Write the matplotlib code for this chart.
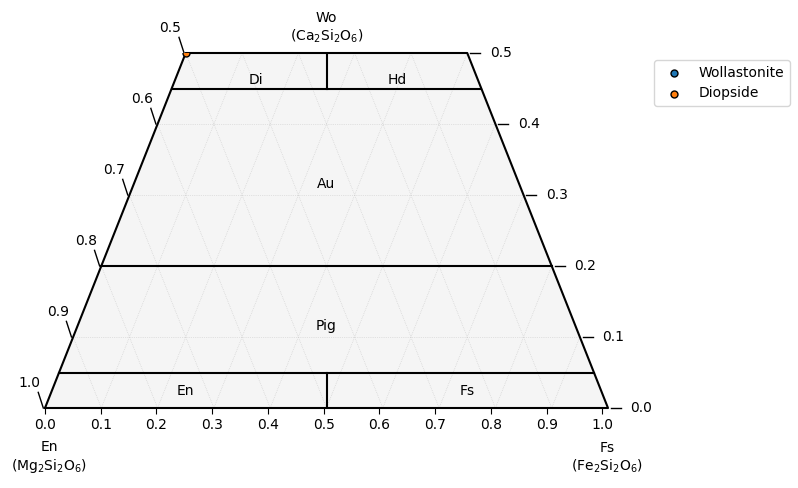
import matplotlib
matplotlib.use("Agg")
import matplotlib.pyplot as plt
import numpy as np

names = ["Wollastonite", "Diopside"]
wo = [1.0, 0.5]
en = [0.0, 0.5]
fs = [0.0, 0.0]
colors = ["#1f77b4", "#ff7f0e"]
field_labels = ["Di", "Hd", "Au", "Pig", "En", "Fs"]

def xy(w, f):
    return f + w / 2, w

fig = plt.figure(figsize=(7.98, 4.88), dpi=100)
ax = fig.add_axes([45/798, 80/488, 563/798, 355/488])
ax.set_xlim(0, 1); ax.set_ylim(0, 0.5)
for s in ax.spines.values():
    s.set_visible(False)
ax.set_yticks([])
ticks = np.arange(0, 1.01, 0.1)
ax.set_xticks(ticks * 0.99)
ax.set_xticklabels([f"{v:.1f}" for v in ticks])
ax.tick_params(axis='x', length=4)

tx = [0, 1, 0.75, 0.25, 0]; ty = [0, 0, 0.5, 0.5, 0]
ax.fill(tx, ty, color="#f5f5f5", zorder=0)
gk = dict(color="#cccccc", lw=0.5, ls=":", zorder=1)
for w in [0.1, 0.2, 0.3, 0.4]:
    ax.plot([w/2, 1-w/2], [w, w], **gk)
for f in np.arange(0.1, 1.0, 0.1):
    w1 = min(0.5, 1 - f)
    ax.plot([f, f + w1/2], [0, w1], **gk)
    w1 = min(0.5, 1 - f)
    ax.plot([1-f, 1-f-w1/2], [0, w1], **gk)
ax.plot(tx, ty, color="k", lw=1.5, zorder=3, clip_on=False)
lk = dict(color="k", lw=1.5, zorder=3)
for w in [0.05, 0.2, 0.45]:
    ax.plot([w/2, 1-w/2], [w, w], **lk)
ax.plot([0.5, 0.5], [0.45, 0.5], **lk)
ax.plot([0.5, 0.5], [0, 0.05], **lk)
for lab, (x, y) in zip(field_labels, [(0.375, 0.462), (0.625, 0.462), (0.5, 0.316),
                                      (0.5, 0.116), (0.25, 0.024), (0.75, 0.024)]):
    ax.text(x, y, lab, ha="center", va="center", fontsize=10)

for e in [0.5, 0.6, 0.7, 0.8, 0.9, 1.0]:
    w = 1 - e
    x0, y0 = w/2, w
    ax.plot([x0 - 0.003, x0 - 0.012], [y0, y0 + 0.022], color="k", lw=1, clip_on=False)
    ax.text(x0 - 0.027, y0 + 0.035, f"{e:.1f}", ha="center", va="center", fontsize=10)
for w in [0.0, 0.1, 0.2, 0.3, 0.4, 0.5]:
    x0 = 1 - w/2
    ax.plot([x0 + 0.005, x0 + 0.023], [w, w], color="k", lw=1, clip_on=False)
    ax.text(x0 + 0.04, w, f"{w:.1f}", ha="left", va="center", fontsize=10)

ax.text(0.5, 0.535, "Wo\n(Ca$_2$Si$_2$O$_6$)", ha="center", va="center", fontsize=10)
ax.text(0.007, -0.07, "En\n(Mg$_2$Si$_2$O$_6$)", ha="center", va="center", fontsize=10)
ax.text(0.998, -0.07, "Fs\n(Fe$_2$Si$_2$O$_6$)", ha="center", va="center", fontsize=10)

for n, w, f, c in zip(names, wo, fs, colors):
    x, y = xy(w, f)
    ax.scatter([x], [y], s=25, color=c, edgecolor="k", lw=1, label=n, zorder=5, clip_on=True)
ax.legend(loc="upper left", bbox_to_anchor=(1.07, 1.0), fontsize=10, markerscale=1.0)

fig.savefig("out.png", dpi=100)
